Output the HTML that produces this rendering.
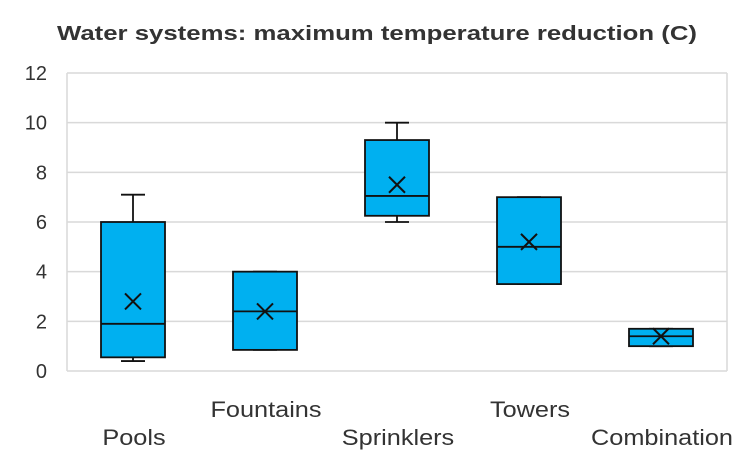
<!DOCTYPE html>
<html><head><meta charset="utf-8"><style>
body{margin:0;background:#fff;}
svg text{font-family:"Liberation Sans",Arial,sans-serif;}
</style></head><body>
<svg id="chart" width="754" height="470" viewBox="0 0 754 470">
<text x="57" y="40" textLength="640" lengthAdjust="spacingAndGlyphs" font-size="20" font-weight="bold" fill="#333">Water systems: maximum  temperature reduction (C)</text>
<g id="grid"></g>
<g id="yticks"></g>
<g id="boxes"></g>
<g id="xlabels"></g>
</svg>
<script>
const categories=["Pools","Fountains","Sprinklers","Towers","Combination"];
const mins=[0.4,0.85,6,3.5,1];
const q1s=[0.55,0.85,6.25,3.5,1];
const medians=[1.9,2.4,7.05,5,1.4];
const q3s=[6,4,9.3,7,1.7];
const maxs=[7.1,4,10,7,1.7];
const means=[2.8,2.4,7.5,5.2,1.4];
const yTicks=[0,2,4,6,8,10,12];
const ns="http://www.w3.org/2000/svg";
const pLeft=67,pRight=727,pTop=73,pBottom=371,yMax=12;
const y=v=>pBottom-(v/yMax)*(pBottom-pTop);
const band=(pRight-pLeft)/categories.length;
const xc=i=>pLeft+band*(i+0.5);
function mk(tag,attrs,parent){const e=document.createElementNS(ns,tag);for(const k in attrs)e.setAttribute(k,attrs[k]);parent.appendChild(e);return e;}
const grid=document.getElementById('grid'),yt=document.getElementById('yticks'),bx=document.getElementById('boxes'),xl=document.getElementById('xlabels');
yTicks.forEach(t=>{
 const l=mk('line',{x1:pLeft,x2:pRight,y1:y(t),y2:y(t),stroke:'#d9d9d9','stroke-width':1.5},grid);
 
 
 const tx=mk('text',{x:47,y:y(t)+7,'text-anchor':'end','font-size':20,fill:'#333'},yt);
 tx.textContent=t;
 
 
});
mk('line',{x1:pLeft,x2:pLeft,y1:pTop,y2:pBottom,stroke:'#d9d9d9','stroke-width':1.5},grid);
mk('line',{x1:pRight,x2:pRight,y1:pTop,y2:pBottom,stroke:'#d9d9d9','stroke-width':1.5},grid);
const bw=64,cw=24;
categories.forEach((c,i)=>{
 const g=mk('g',{},bx);
 
 
 const cx=xc(i),st={stroke:'#111','stroke-width':1.8};
 mk('line',Object.assign({x1:cx,x2:cx,y1:y(maxs[i]),y2:y(q3s[i])},st),g);
 mk('line',Object.assign({x1:cx,x2:cx,y1:y(mins[i]),y2:y(q1s[i])},st),g);
 mk('line',Object.assign({x1:cx-cw/2,x2:cx+cw/2,y1:y(maxs[i]),y2:y(maxs[i])},st),g);
 mk('line',Object.assign({x1:cx-cw/2,x2:cx+cw/2,y1:y(mins[i]),y2:y(mins[i])},st),g);
 mk('rect',Object.assign({x:cx-bw/2,y:y(q3s[i]),width:bw,height:y(q1s[i])-y(q3s[i]),fill:'#00b0f0'},st),g);
 mk('line',Object.assign({x1:cx-bw/2,x2:cx+bw/2,y1:y(medians[i]),y2:y(medians[i])},st),g);
 const my=y(means[i]),s=8;
 mk('path',{d:`M${cx-s} ${my-s}L${cx+s} ${my+s}M${cx-s} ${my+s}L${cx+s} ${my-s}`,stroke:'#111','stroke-width':2},g);
 const tx=mk('text',{x:0,y:0,'text-anchor':'middle','font-size':22,fill:'#333',transform:`translate(${cx+1},${i%2?417:445}) scale(1.15,1)`},xl);
 tx.textContent=c;
 
 
});
</script>
</body></html>
